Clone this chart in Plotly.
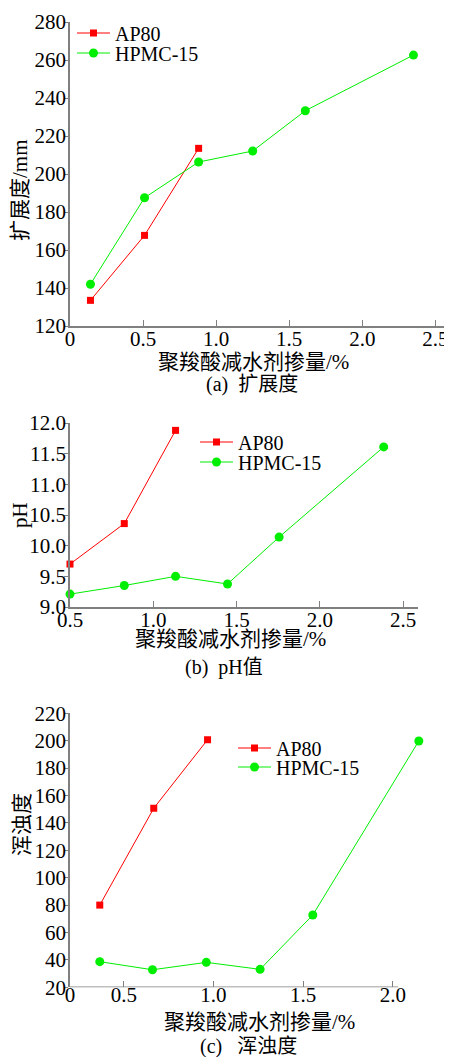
import plotly.graph_objects as go

# Panel (a) 扩展度
a_ap80_x = [0.14, 0.51, 0.88]
a_ap80_y = [133.5, 167.7, 213.5]
a_hpmc_x = [0.14, 0.51, 0.88, 1.25, 1.61, 2.35]
a_hpmc_y = [142, 187.5, 206.3, 212.1, 233.3, 262.6]
a_xticks = [0, 0.5, 1.0, 1.5, 2.0, 2.5]
a_xtext = ["0", "0.5", "1.0", "1.5", "2.0", "2.5"]
a_yticks = [120, 140, 160, 180, 200, 220, 240, 260, 280]

# Panel (b) pH
b_ap80_x = [0.5, 0.826, 1.134]
b_ap80_y = [9.70, 10.36, 11.88]
b_hpmc_x = [0.5, 0.826, 1.134, 1.446, 1.756, 2.384]
b_hpmc_y = [9.21, 9.35, 9.50, 9.375, 10.14, 11.61]
b_xticks = [0.5, 1.0, 1.5, 2.0, 2.5]
b_xtext = ["0.5", "1.0", "1.5", "2.0", "2.5"]
b_yticks = [9.0, 9.5, 10.0, 10.5, 11.0, 11.5, 12.0]
b_ytext = ["9.0", "9.5", "10.0", "10.5", "11.0", "11.5", "12.0"]

# Panel (c) 浑浊度
c_ap80_x = [0.366, 0.667, 0.967]
c_ap80_y = [80, 150.7, 200.7]
c_hpmc_x = [0.366, 0.66, 0.96, 1.26, 1.554, 2.145]
c_hpmc_y = [38.7, 32.8, 38.2, 33.1, 72.8, 199.8]
c_xticks = [0.2, 0.5, 1.0, 1.5, 2.0]
c_xtext = ["0", "0.5", "1.0", "1.5", "2.0"]
c_yticks = [20, 40, 60, 80, 100, 120, 140, 160, 180, 200, 220]

names = ["AP80", "HPMC-15"]
captions = ["(a)  扩展度", "(b)  pH值", "(c)   浑浊度"]
xtitle = "聚羧酸减水剂掺量/%"
ytitles = ["扩展度/mm", "pH", "浑浊度"]

RED = "#ff0000"
GREEN = "#00ee00"
AXC = "#808080"
FONT = "Liberation Serif, Times New Roman, Noto Sans CJK SC, serif"
OFF = 8  # default page body margin
W, H = 452 - OFF, 1057 - OFF

def py(px):
    return 1 - (px - OFF) / H

def px_x(px):
    return (px - OFF) / W

fig = go.Figure()

panels = [
    (a_ap80_x, a_ap80_y, a_hpmc_x, a_hpmc_y, "x", "y", "legend", "legend2"),
    (b_ap80_x, b_ap80_y, b_hpmc_x, b_hpmc_y, "x2", "y2", "legend3", "legend4"),
    (c_ap80_x, c_ap80_y, c_hpmc_x, c_hpmc_y, "x3", "y3", "legend5", "legend6"),
]
for ax, ay, hx, hy, xa, ya, lg1, lg2 in panels:
    fig.add_trace(go.Scatter(x=ax, y=ay, name=names[0], mode="lines+markers",
                             line=dict(color=RED, width=1),
                             marker=dict(symbol="square", size=7, color=RED),
                             xaxis=xa, yaxis=ya, legend=lg1, cliponaxis=False))
    fig.add_trace(go.Scatter(x=hx, y=hy, name=names[1], mode="lines+markers",
                             line=dict(color=GREEN, width=1),
                             marker=dict(symbol="circle", size=9, color=GREEN),
                             xaxis=xa, yaxis=ya, legend=lg2, cliponaxis=False))

tickfont = dict(family=FONT, size=21, color="black")
common_x = dict(showgrid=False, zeroline=False, showline=True, linecolor=AXC, linewidth=1.5,
                ticks="inside", ticklen=6, tickcolor=AXC, tickwidth=1.2, tickfont=tickfont,
                automargin=False, ticklabelstandoff=-7)
common_y = dict(showgrid=False, zeroline=False, showline=True, linecolor=AXC, linewidth=1.5,
                ticks="outside", ticklen=4, tickcolor=AXC, tickwidth=1.2, tickfont=tickfont,
                automargin=False, ticklabelstandoff=-6)

def leg(xpx, ypx):
    # legend box placed so the row centre sits at ypx
    return dict(x=px_x(xpx), y=py(ypx), xanchor="left", yanchor="middle",
                font=dict(family=FONT, size=20, color="black"),
                bgcolor="rgba(0,0,0,0)", itemwidth=33, borderwidth=0)

fig.update_layout(
    width=W, height=H,
    margin=dict(l=0, r=0, t=0, b=0, autoexpand=False),
    paper_bgcolor="white", plot_bgcolor="white",
    font=dict(family=FONT, color="black"),
    xaxis=dict(domain=[px_x(70), px_x(450)], range=[0, 2.6], anchor="y",
               tickvals=a_xticks, ticktext=a_xtext, **common_x),
    yaxis=dict(domain=[py(326), py(22)], range=[120, 280], anchor="x",
               tickvals=a_yticks, **common_y),
    xaxis2=dict(domain=[px_x(70), px_x(418)], range=[0.5, 2.59], anchor="y2",
                tickvals=b_xticks, ticktext=b_xtext, **common_x),
    yaxis2=dict(domain=[py(607), py(423)], range=[9.0, 12.0], anchor="x2",
                tickvals=b_yticks, ticktext=b_ytext, **common_y),
    xaxis3=dict(domain=[px_x(70), px_x(421.5)], range=[0.2, 2.16], anchor="y3",
                tickvals=c_xticks, ticktext=c_xtext,
                **{**common_x, "showline": False}),
    yaxis3=dict(domain=[py(987.3), py(713.3)], range=[20, 220], anchor="x3",
                tickvals=c_yticks, **common_y),
    legend=leg(72, 33),
    legend2=leg(72, 53),
    legend3=leg(195, 442),
    legend4=leg(195, 462),
    legend5=leg(233, 748),
    legend6=leg(233, 767),
    showlegend=True,
)

# x axis line of panel (c) stops short of the last point
fig.add_shape(type="line", xref="x3", yref="y3", x0=0.2, x1=2.03, y0=20, y1=20,
              line=dict(color=AXC, width=1.5))

annfont = dict(family=FONT, size=21, color="black")
# x-axis titles
for xc, yc in [(253, 362), (230, 639), (259, 1022)]:
    fig.add_annotation(text=xtitle, x=px_x(xc), y=py(yc), xref="paper", yref="paper",
                       showarrow=False, font=annfont, xanchor="center", yanchor="middle")
# captions
for cap, xc, yc in zip(captions, [252, 224, 248], [384, 667, 1046]):
    fig.add_annotation(text=cap, x=px_x(xc), y=py(yc), xref="paper", yref="paper",
                       showarrow=False, font=dict(family=FONT, size=20, color="black"),
                       xanchor="center", yanchor="middle")
# y-axis titles
for t, xc, yc in zip(ytitles, [20, 20, 22], [190, 515, 825]):
    fig.add_annotation(text=t, x=px_x(xc), y=py(yc), xref="paper", yref="paper",
                       showarrow=False, font=annfont, textangle=-90,
                       xanchor="center", yanchor="middle")

fig.write_html("out.html")
